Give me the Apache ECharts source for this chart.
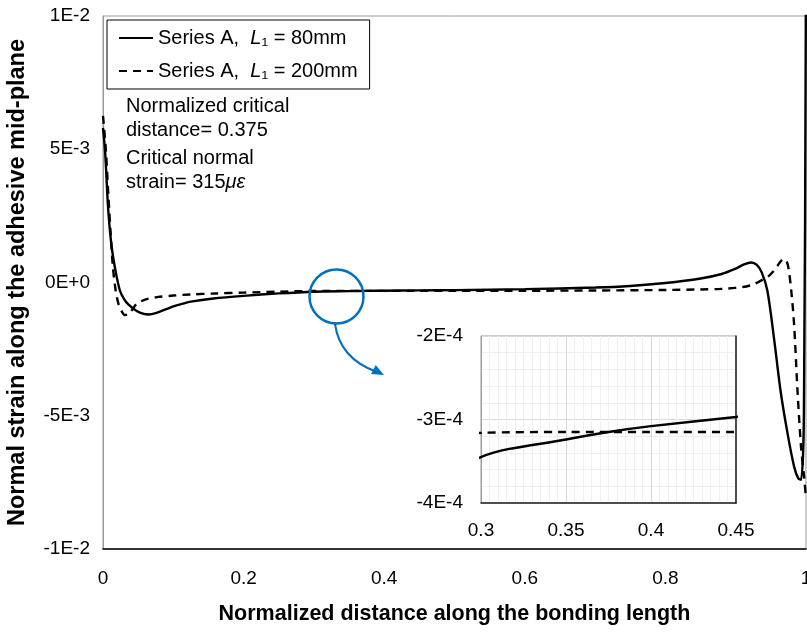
<!DOCTYPE html>
<html>
<head>
<meta charset="utf-8">
<script src="https://cdn.jsdelivr.net/npm/echarts@6/dist/echarts.min.js"></script>
<style>
  html, body { margin: 0; padding: 0; background: #fff; }
  #chart { width: 807px; height: 633px; }
</style>
</head>
<body>
<div id="chart"></div>
<script>
// tick labels
const yTicks = [-0.01, -0.005, 0, 0.005, 0.01];
const yTickLabels = ['-1E-2', '-5E-3', '0E+0', '5E-3', '1E-2'];
const insetYTicks = [-4e-4, -3e-4, -2e-4];
const insetYTickLabels = ['-4E-4', '-3E-4', '-2E-4'];
const insetXTicks = [0.3, 0.35, 0.4, 0.45];
const insetXTickLabels = ['0.3', '0.35', '0.4', '0.45'];

// series A, L1 = 80mm (strain in 1E-3)
const xA = [0, 0.003, 0.007, 0.01, 0.013, 0.017, 0.024, 0.03, 0.036, 0.048, 0.058, 0.065, 0.075, 0.09, 0.1, 0.11,
  0.125, 0.157, 0.2, 0.25, 0.3, 0.35, 0.375, 0.4, 0.45, 0.5, 0.6, 0.7, 0.75, 0.8, 0.85, 0.88, 0.9, 0.912, 0.922,
  0.93, 0.937, 0.945, 0.955, 0.964, 0.974, 0.983, 0.989, 0.993, 0.997, 1.0];
const strainA = [5.8, 4.9, 2.9, 1.9, 1.2, 0.55, -0.3, -0.62, -0.82, -1.07, -1.18, -1.2, -1.15, -1.0, -0.9, -0.82,
  -0.72, -0.6, -0.5, -0.41, -0.345, -0.324, -0.315, -0.308, -0.297, -0.285, -0.25, -0.19, -0.13, -0.02, 0.15, 0.32,
  0.52, 0.68, 0.75, 0.66, 0.38, -0.3, -2.2, -4.1, -5.7, -6.9, -7.35, -7.4, -5.0, 12];

// series A, L1 = 200mm (strain in 1E-3)
const xB = [0, 0.004, 0.008, 0.011, 0.014, 0.018, 0.022, 0.027, 0.031, 0.036, 0.042, 0.048, 0.06, 0.077, 0.1, 0.124,
  0.16, 0.2, 0.25, 0.3, 0.35, 0.4, 0.45, 0.5, 0.6, 0.7, 0.8, 0.85, 0.88, 0.9, 0.915, 0.926, 0.938, 0.946, 0.953, 0.96,
  0.965, 0.969, 0.972, 0.975, 0.979, 0.983, 0.988, 0.993, 0.997, 1.0];
const strainB = [6.25, 5.0, 3.1, 1.8, 0.6, -0.3, -0.8, -1.1, -1.22, -1.2, -1.0, -0.8, -0.64, -0.55, -0.49, -0.45,
  -0.41, -0.38, -0.345, -0.316, -0.315, -0.315, -0.315, -0.314, -0.31, -0.3, -0.28, -0.26, -0.24, -0.2, -0.15,
  -0.06, 0.1, 0.22, 0.4, 0.65, 0.82, 0.88, 0.82, 0.55, -0.3, -1.55, -4.1, -6.2, -7.2, -8.1];

const chart = echarts.init(document.getElementById('chart'));

function pairs(xs, ys) {
  return xs.map((x, i) => [x, ys[i] * 1e-3]);
}
function tickText(v, ticks, labels) {
  for (let i = 0; i < ticks.length; i++) {
    if (Math.abs(v - ticks[i]) < 1e-9) return labels[i];
  }
  return '';
}

const font = 'Liberation Sans';
const nameA = 'Series A, L1 = 80mm';
const nameB = 'Series A, L1 = 200mm';

const option = {
  backgroundColor: '#fff',
  animation: false,
  textStyle: { fontFamily: font },
  legend: {
    data: [nameA, nameB],
    orient: 'vertical',
    left: 107,
    top: 20,
    itemWidth: 34,
    itemHeight: 14,
    itemGap: 13,
    padding: [8, 12, 8, 11],
    borderColor: '#000',
    borderWidth: 1,
    borderRadius: 0,
    backgroundColor: '#fff',
    itemStyle: { opacity: 0 },
    formatter: name => name === nameA
      ? '{n|Series A,  }{i|L}{n|₁ = 80mm}'
      : '{n|Series A,  }{i|L}{n|₁ = 200mm}',
    textStyle: {
      rich: {
        n: { fontSize: 20, color: '#000', fontFamily: font },
        i: { fontSize: 20, color: '#000', fontFamily: font, fontStyle: 'italic' }
      }
    }
  },
  grid: [
    { left: 103, top: 16, right: 1, bottom: 84, show: true, borderColor: '#9a9a9a', borderWidth: 1,
      outerBoundsMode: 'none', containLabel: false },
    { left: 481, top: 336, width: 255, height: 167, show: true, borderColor: '#9a9a9a', borderWidth: 1,
      backgroundColor: '#fff', outerBoundsMode: 'none', containLabel: false }
  ],
  xAxis: [
    {
      gridIndex: 0, type: 'value', min: 0, max: 1, interval: 0.2,
      name: 'Normalized distance along the bonding length',
      nameLocation: 'middle', nameGap: 54,
      nameTextStyle: { fontSize: 21.5, fontWeight: 'bold', color: '#000', fontFamily: font },
      axisLine: { onZero: false, lineStyle: { color: '#000', width: 1.5 } },
      axisTick: { show: false },
      splitLine: { show: false },
      axisLabel: { fontSize: 19, color: '#000', margin: 20, fontFamily: font, hideOverlap: false,
        formatter: v => String(Math.round(v * 10) / 10) }
    },
    {
      gridIndex: 1, type: 'value', min: 0.3, max: 0.45, interval: 0.05,
      axisLine: { onZero: false, lineStyle: { color: '#222', width: 1.5 } },
      axisTick: { show: false },
      splitLine: { show: true, lineStyle: { color: '#d9d9d9', width: 1 } },
      minorTick: { show: false, splitNumber: 10 },
      minorSplitLine: { show: true, lineStyle: { color: '#efefef', width: 1 } },
      axisLabel: { fontSize: 19, color: '#000', margin: 18, fontFamily: font,
        formatter: v => tickText(v, insetXTicks, insetXTickLabels) }
    }
  ],
  yAxis: [
    {
      gridIndex: 0, type: 'value', min: -0.01, max: 0.01, interval: 0.005,
      name: 'Normal strain along the adhesive mid-plane',
      nameLocation: 'middle', nameGap: 73, nameRotate: 90,
      nameTextStyle: { fontSize: 23.5, fontWeight: 'bold', color: '#000', fontFamily: font },
      axisLine: { onZero: false, lineStyle: { color: '#9a9a9a', width: 1 } },
      axisTick: { show: false },
      splitLine: { show: false },
      axisLabel: { fontSize: 19, color: '#000', margin: 13, fontFamily: font,
        formatter: v => tickText(v, yTicks, yTickLabels) }
    },
    {
      gridIndex: 1, type: 'value', min: -4e-4, max: -2e-4, interval: 1e-4,
      axisLine: { onZero: false, lineStyle: { color: '#9a9a9a', width: 1 } },
      axisTick: { show: false },
      splitLine: { show: true, lineStyle: { color: '#d9d9d9', width: 1 } },
      minorTick: { show: false, splitNumber: 5 },
      minorSplitLine: { show: true, lineStyle: { color: '#efefef', width: 1 } },
      axisLabel: { fontSize: 19, color: '#000', margin: 18, fontFamily: font,
        formatter: v => tickText(v, insetYTicks, insetYTickLabels) }
    },
    {
      gridIndex: 1, type: 'value', min: -4e-4, max: -2e-4, interval: 1e-4, position: 'right',
      axisLine: { onZero: false, lineStyle: { color: '#222', width: 1.5 } },
      axisTick: { show: false }, axisLabel: { show: false }, splitLine: { show: false }
    }
  ],
  series: [
    {
      name: nameA, type: 'line', xAxisIndex: 0, yAxisIndex: 0,
      data: pairs(xA, strainA), showSymbol: false, symbol: 'none',
      smooth: 0.3, clip: true,
      lineStyle: { color: '#000', width: 2.4, type: 'solid' }, itemStyle: { color: '#000' }
    },
    {
      name: nameB, type: 'line', xAxisIndex: 0, yAxisIndex: 0,
      data: pairs(xB, strainB), showSymbol: false, symbol: 'none',
      smooth: 0.3, clip: true,
      lineStyle: { color: '#000', width: 2.4, type: [8, 6] }, itemStyle: { color: '#000' }
    },
    {
      name: nameA, type: 'line', xAxisIndex: 1, yAxisIndex: 1,
      data: pairs(xA, strainA), showSymbol: false, symbol: 'none',
      smooth: 0.3, clip: true,
      lineStyle: { color: '#000', width: 2.4, type: 'solid' }
    },
    {
      name: nameB, type: 'line', xAxisIndex: 1, yAxisIndex: 1,
      data: pairs(xB, strainB), showSymbol: false, symbol: 'none',
      smooth: 0.3, clip: true,
      lineStyle: { color: '#000', width: 2.4, type: [8, 6] }
    }
  ],
  graphic: [
    {
      type: 'text', left: 126, top: 94, z: 10,
      style: { text: 'Normalized critical\ndistance= 0.375', font: '20px "Liberation Sans"', fill: '#000', lineHeight: 24 }
    },
    {
      type: 'text', left: 126, top: 148, z: 10,
      style: {
        text: '{n|Critical normal}\n{n|strain= 315}{g|με}',
        rich: {
          n: { font: '20px "Liberation Sans"', fill: '#000', lineHeight: 24 },
          g: { font: 'italic 20px "Liberation Sans"', fill: '#000', lineHeight: 24 }
        }
      }
    },
    {
      type: 'circle', z: 10,
      shape: { cx: 336.5, cy: 296.5, r: 27 },
      style: { fill: 'none', stroke: '#0070C0', lineWidth: 2.5 }
    },
    {
      type: 'bezierCurve', z: 10,
      shape: { x1: 335, y1: 324, cpx1: 339, cpy1: 352, cpx2: 358, cpy2: 365, x2: 376, y2: 371.5 },
      style: { fill: 'none', stroke: '#0070C0', lineWidth: 2 }
    },
    {
      type: 'polygon', z: 10,
      shape: { points: [[384, 375], [371.1, 373.9], [375.7, 365.1]] },
      style: { fill: '#0070C0' }
    }
  ]
};

chart.setOption(option);
</script>
</body>
</html>
